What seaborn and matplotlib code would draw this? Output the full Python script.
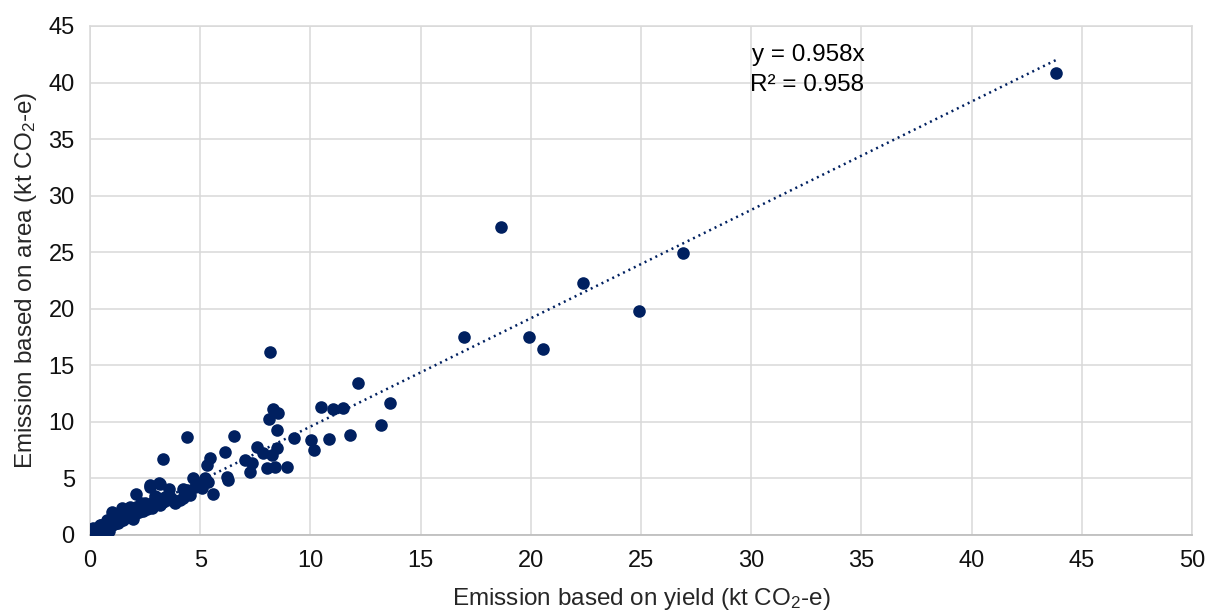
import numpy as np
import pandas as pd
import matplotlib
matplotlib.use("Agg")
import matplotlib.pyplot as plt
import seaborn as sns

# emission per site, estimated from the reference figure (kt CO2-e)
yield_emission = [
    43.82, 26.91, 24.92, 22.35, 18.65, 19.93, 20.54, 16.97, 13.61, 13.20,
    12.15, 11.80, 11.49, 11.04, 10.47, 10.86, 10.01, 10.16, 9.27, 8.96,
    8.17, 8.28, 8.55, 8.14, 8.47, 8.47, 8.24, 7.86, 7.59, 8.02,
    8.39, 7.03, 7.34, 7.26, 6.55, 6.13, 6.23, 6.28, 5.44, 5.29,
    5.59, 5.22, 5.37, 4.69, 4.99, 5.07, 4.39, 4.76, 4.54, 4.23,
    4.08, 4.23, 4.39, 3.30, 2.72, 3.18, 3.60, 3.86, 3.18, 2.09,
    2.57, 2.19, 1.81, 1.44, 0.98, 1.21, 0.76, 0.45, 0.15, 0.00,
    0.05, 0.10, 0.12, 0.20, 0.25, 0.30, 0.35, 0.40, 0.45, 0.50,
    0.55, 0.60, 0.65, 0.70, 0.75, 0.80, 0.85, 0.90, 0.95, 1.00,
    1.05, 1.10, 1.15, 1.20, 1.30, 1.35, 1.40, 1.50, 1.55, 1.60,
    1.70, 1.75, 1.80, 1.90, 2.00, 2.05, 2.10, 2.20, 2.30, 2.40,
    2.50, 2.60, 2.70, 2.80, 2.90, 3.00, 3.10, 3.30, 3.40, 3.50,
    3.60, 3.70, 0.30, 0.60, 0.15, 0.50, 2.74, 3.12, 1.00, 1.25,
    1.10, 1.60, 2.30, 2.95, 0.85, 1.95,
]
area_emission = [
    40.82, 24.96, 19.81, 22.31, 27.21, 17.53, 16.42, 17.53, 11.70, 9.70,
    13.41, 8.84, 11.26, 11.14, 11.34, 8.49, 8.40, 7.52, 8.55, 5.97,
    16.21, 11.18, 10.76, 10.24, 9.28, 7.69, 7.07, 7.22, 7.75, 5.92,
    6.04, 6.63, 6.34, 5.60, 8.73, 7.37, 5.15, 4.86, 6.78, 6.19,
    3.60, 5.01, 4.71, 5.07, 4.57, 4.13, 3.98, 4.27, 3.54, 4.04,
    3.09, 3.24, 8.69, 6.75, 4.27, 4.51, 4.04, 2.80, 2.65, 3.63,
    2.36, 2.21, 2.50, 2.36, 2.06, 1.62, 1.33, 0.88, 0.59, 0.00,
    0.02, 0.12, 0.05, 0.25, 0.10, 0.35, 0.20, 0.50, 0.30, 0.60,
    0.40, 0.75, 0.50, 0.90, 0.60, 0.70, 1.00, 0.80, 1.15, 0.85,
    1.30, 1.00, 1.40, 1.10, 1.50, 1.20, 1.70, 1.35, 1.90, 1.50,
    2.00, 1.60, 2.20, 1.70, 2.30, 1.85, 2.50, 2.00, 2.60, 2.15,
    2.80, 2.30, 2.60, 2.40, 3.00, 2.70, 3.30, 2.90, 3.40, 3.10,
    3.50, 3.20, 0.00, 0.15, 0.40, 0.90, 4.42, 4.57, 1.20, 1.05,
    1.55, 2.10, 2.85, 3.45, 0.35, 1.45,
]
slope = 0.958
r_squared = 0.958

df = pd.DataFrame({"yield": yield_emission, "area": area_emission})

sns.set_theme(style="whitegrid")
plt.rcParams['font.family'] = ['Liberation Sans', 'DejaVu Sans']
plt.rcParams['mathtext.fontset'] = 'custom'
plt.rcParams['mathtext.rm'] = 'Liberation Sans'
plt.rcParams['mathtext.it'] = 'Liberation Sans:italic'

dot_color = "#002060"
grid_color = "#D9D9D9"

fig, ax = plt.subplots(figsize=(12.05, 6.1), dpi=100)
fig.subplots_adjust(left=0.0747, right=0.9892, top=0.9574, bottom=0.123)

sns.scatterplot(data=df, x="yield", y="area", color=dot_color, s=82,
                linewidth=0, ax=ax, zorder=3)

# linear trendline through origin
xs = np.array([0, df["yield"].max()])
ax.plot(xs, slope * xs, color=dot_color, lw=1.8, linestyle=(0, (0.8, 1.6)),
        zorder=2)

ax.text(30.05, 42.4, f"y = {slope}x", fontsize=17.5, va="center", ha="left", color="black")
ax.text(29.95, 39.8, f"R² = {r_squared}", fontsize=17.5, va="center", ha="left", color="black")

ax.set_xlim(0, 50)
ax.set_ylim(0, 45)
ax.set_xticks(np.arange(0, 51, 5))
ax.set_yticks(np.arange(0, 46, 5))
ax.grid(True, color=grid_color, linewidth=1.1)
for side in ["left", "top", "right"]:
    ax.spines[side].set_color(grid_color)
    ax.spines[side].set_linewidth(1.1)
ax.spines["bottom"].set_color("#BFBFBF")
ax.spines["bottom"].set_linewidth(1.3)
ax.tick_params(axis="both", labelsize=17, colors="black", length=0, pad=11)
ax.tick_params(axis="both", labelcolor="#111111")

ax.set_xlabel(r"Emission based on yield (kt CO$_\mathregular{2}$-e)", fontsize=17.5, labelpad=10)
ax.set_ylabel(r"Emission based on area (kt CO$_\mathregular{2}$-e)", fontsize=17.5, labelpad=7)

plt.savefig("out.png", dpi=100)
